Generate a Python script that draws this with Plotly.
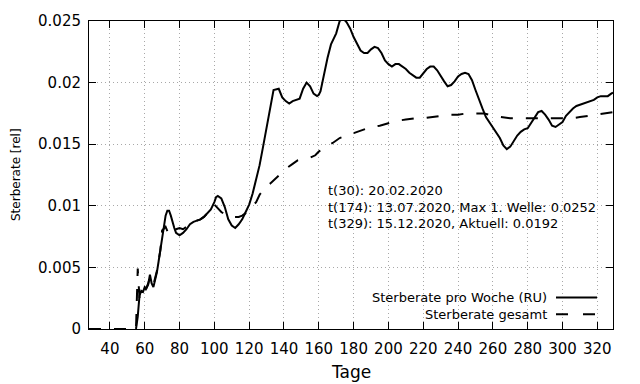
import plotly.graph_objects as go

# Sterberate pro Woche (RU)
days_week = [55, 56, 57, 58, 59, 60, 61, 62, 63, 64, 65, 66, 67, 68, 69, 70, 71, 72, 73, 74,
             75, 76, 77, 78, 80, 82, 84, 86, 88, 90, 92, 94, 96, 98, 100, 101, 102, 104, 106, 108,
             110, 112, 114, 116, 118, 120, 122, 124, 126, 128, 130, 132, 134, 137, 139, 141, 143, 145, 147, 149,
             151, 153, 155, 157, 159, 160, 161, 163, 165, 167, 170, 172, 174, 176, 178, 180, 182, 184, 186, 188,
             190, 192, 194, 196, 198, 200, 202, 204, 206, 208, 210, 212, 214, 216, 218, 220, 222, 224, 226, 228,
             230, 232, 234, 236, 238, 240, 242, 244, 246, 248, 250, 252, 254, 256, 258, 260, 262, 264, 266, 268,
             270, 272, 274, 276, 278, 280, 282, 284, 286, 288, 290, 292, 294, 296, 298, 300, 302, 304, 306, 308,
             310, 312, 314, 316, 318, 320, 322, 324, 326, 328, 329]
rate_week = [0, 0.0010, 0.0027, 0.0031, 0.0030, 0.0034, 0.0033, 0.0036, 0.0044, 0.0037, 0.0034, 0.0040, 0.0046, 0.0055, 0.0065, 0.0076, 0.0085, 0.0092, 0.0096, 0.0096,
             0.0092, 0.0086, 0.0082, 0.0078, 0.0076, 0.0078, 0.0081, 0.0085, 0.0087, 0.0088, 0.0089, 0.0091, 0.0094, 0.0097, 0.0103, 0.0107, 0.0108, 0.0106, 0.0099, 0.0089,
             0.0084, 0.0082, 0.0085, 0.0089, 0.0095, 0.0101, 0.0110, 0.0121, 0.0133, 0.0148, 0.0163, 0.0180, 0.0194, 0.0195, 0.0188, 0.0185, 0.0183, 0.0185, 0.0186, 0.0187,
             0.0195, 0.0200, 0.0197, 0.0191, 0.0189, 0.0190, 0.0193, 0.0207, 0.0220, 0.0231, 0.0240, 0.0250, 0.0252, 0.0249, 0.0244, 0.0237, 0.0231, 0.0226, 0.0224, 0.0224,
             0.0227, 0.0229, 0.0228, 0.0224, 0.0218, 0.0215, 0.0213, 0.0215, 0.0215, 0.0213, 0.0211, 0.0208, 0.0206, 0.0204, 0.0204, 0.0208, 0.0211, 0.0213, 0.0213, 0.0210,
             0.0205, 0.0201, 0.0197, 0.0198, 0.0201, 0.0205, 0.0207, 0.0208, 0.0207, 0.0202, 0.0194, 0.0186, 0.0179, 0.0172, 0.0168, 0.0164, 0.0160, 0.0155, 0.0149, 0.0146,
             0.0148, 0.0153, 0.0157, 0.0160, 0.0162, 0.0163, 0.0167, 0.0171, 0.0176, 0.0177, 0.0174, 0.0170, 0.0165, 0.0164, 0.0166, 0.0168, 0.0173, 0.0176, 0.0179, 0.0181,
             0.0182, 0.0183, 0.0184, 0.0185, 0.0186, 0.0188, 0.0189, 0.0189, 0.0189, 0.0191, 0.0192]

# Sterberate gesamt
days_total = [28, 55, 56, 57, 58, 60, 62, 63, 65, 67, 69, 70, 72, 73, 74, 76, 78, 80, 82, 84,
              86, 88, 90, 92, 94, 96, 98, 100, 102, 104, 106, 108, 110, 112, 114, 116, 118, 120, 122, 124,
              126, 128, 130, 132, 135, 138, 140, 142, 145, 148, 150, 155, 158, 160, 162, 165, 168, 172, 176, 180,
              185, 190, 195, 200, 205, 210, 215, 220, 225, 230, 235, 240, 245, 250, 255, 260, 265, 270, 275, 280,
              285, 290, 295, 300, 305, 310, 315, 320, 325, 329]
rate_total = [0, 0, 0.0049, 0.0025, 0.0031, 0.0030, 0.0037, 0.0042, 0.0036, 0.0047, 0.0064, 0.0080, 0.0083, 0.0079, 0.0076, 0.0079, 0.0081, 0.0082, 0.0081, 0.0083,
              0.0086, 0.0086, 0.0088, 0.0089, 0.0091, 0.0094, 0.0097, 0.0101, 0.0098, 0.0095, 0.0093, 0.0091, 0.0091, 0.0091, 0.0091, 0.0092, 0.0094, 0.0097, 0.0100, 0.0103,
              0.0109, 0.0113, 0.0116, 0.0118, 0.0122, 0.0126, 0.0128, 0.0131, 0.0134, 0.0137, 0.0138, 0.0139, 0.0141, 0.0144, 0.0146, 0.0149, 0.0151, 0.0155, 0.0157, 0.0159,
              0.0161, 0.0164, 0.0165, 0.0167, 0.0169, 0.0170, 0.0171, 0.0171, 0.0172, 0.0173, 0.0174, 0.0174, 0.0175, 0.0175, 0.0175, 0.0173, 0.0172, 0.0171, 0.0171, 0.0171,
              0.0171, 0.0171, 0.0171, 0.0171, 0.0171, 0.0172, 0.0173, 0.0174, 0.0175, 0.0176]

x_ticks = [40, 60, 80, 100, 120, 140, 160, 180, 200, 220, 240, 260, 280, 300, 320]
y_ticks = [0, 0.005, 0.01, 0.015, 0.02, 0.025]
y_tick_labels = ["0", "0.005", "0.01", "0.015", "0.02", "0.025"]

info_lines = ["t(30): 20.02.2020",
              "t(174): 13.07.2020, Max 1. Welle: 0.0252",
              "t(329): 15.12.2020, Aktuell: 0.0192"]
legend_names = ["Sterberate pro Woche (RU)", "Sterberate gesamt"]

FONT = "DejaVu Sans"

fig = go.Figure()
fig.add_trace(go.Scatter(x=days_total, y=rate_total, mode="lines", name=legend_names[1],
                         line=dict(color="black", width=2, dash="12px,13px")))
fig.add_trace(go.Scatter(x=days_week, y=rate_week, mode="lines", name=legend_names[0],
                         line=dict(color="black", width=2)))

axis_common = dict(showline=True, linecolor="black", linewidth=1, mirror="ticks",
                   ticks="inside", ticklen=7, tickcolor="black", tickwidth=1,
                   showgrid=True, gridcolor="#a8a8a8", griddash="1px,3px", gridwidth=1,
                   zeroline=False, tickfont=dict(family=FONT, size=15, color="black"))

fig.update_xaxes(range=[28, 329], tickvals=x_ticks, ticklabelstandoff=6, **axis_common)
fig.update_yaxes(range=[0, 0.025], tickvals=y_ticks, ticktext=y_tick_labels, ticklabelstandoff=4, **axis_common)

annotations = []
for i, (txt, ypx) in enumerate(zip(info_lines, [189, 206, 222])):
    annotations.append(dict(text=txt, xref="paper", yref="paper", x=(326 - 89) / 524, y=(329 - ypx) / 312,
                            xanchor="left", yanchor="middle", showarrow=False,
                            font=dict(family=FONT, size=13, color="black")))
for txt, ypx in zip(legend_names, [297, 314]):
    annotations.append(dict(text=txt, xref="paper", yref="paper", x=(549 - 89) / 524, y=(329 - ypx) / 312,
                            xanchor="right", yanchor="middle", showarrow=False,
                            font=dict(family=FONT, size=13, color="black")))
annotations.append(dict(text="Sterberate [rel]", xref="paper", yref="paper", x=(16 - 89) / 524, y=0.5,
                        textangle=-90, xanchor="center", yanchor="middle", showarrow=False,
                        font=dict(family=FONT, size=12, color="black")))
annotations.append(dict(text="Tage", xref="paper", yref="paper", x=0.5, y=(329 - 373) / 312,
                        xanchor="center", yanchor="middle", showarrow=False,
                        font=dict(family=FONT, size=17, color="black")))

shapes = [
    dict(type="line", xref="paper", yref="paper", x0=(556 - 89) / 524, x1=(597 - 89) / 524,
         y0=(329 - 297) / 312, y1=(329 - 297) / 312, line=dict(color="black", width=2)),
    dict(type="line", xref="paper", yref="paper", x0=(556 - 89) / 524, x1=(597 - 89) / 524,
         y0=(329 - 314) / 312, y1=(329 - 314) / 312, line=dict(color="black", width=2, dash="12px,15px")),
]

fig.update_layout(width=640, height=384, margin=dict(l=89, r=27, t=17, b=55),
                  plot_bgcolor="white", paper_bgcolor="white", showlegend=False,
                  annotations=annotations, shapes=shapes,
                  font=dict(family=FONT, color="black"))

fig.write_html("out.html", config={"displayModeBar": False},
               post_script="document.body.style.margin='0';document.body.style.overflow='hidden';")
